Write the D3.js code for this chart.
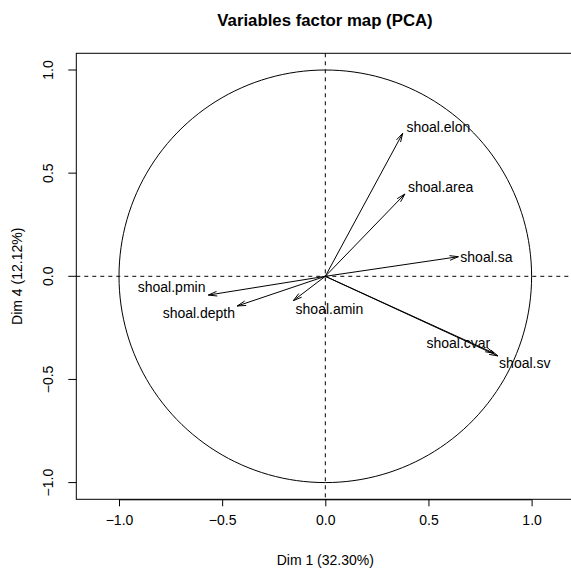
<!DOCTYPE html>
<html>
<head>
<meta charset="utf-8">
<script src="https://cdn.jsdelivr.net/npm/d3@7"></script>
<style>
  body { margin: 0; background: #fff; }
  svg { display: block; font-family: "Liberation Sans", Arial, sans-serif; }
</style>
</head>
<body>
<div id="chart"></div>
<script>
// ---- data ----
const variables = ["shoal.elon", "shoal.area", "shoal.sa", "shoal.cvar", "shoal.sv", "shoal.pmin", "shoal.depth", "shoal.amin"];
const dim1 = [0.375, 0.386, 0.645, 0.818, 0.837, -0.567, -0.427, -0.155];
const dim4 = [0.693, 0.399, 0.095, -0.373, -0.386, -0.091, -0.144, -0.118];
// label anchor points (data units), as placed by the original label-avoidance routine
const labelX = [0.548, 0.559, 0.781, 0.645, 0.967, -0.745, -0.613, 0.020];
const labelY = [0.725, 0.434, 0.092, -0.325, -0.422, -0.050, -0.176, -0.160];
const xTicks = [-1, -0.5, 0, 0.5, 1];
const yTicks = [-1, -0.5, 0, 0.5, 1];
const title = "Variables factor map (PCA)";
const xTitle = "Dim 1 (32.30%)";
const yTitle = "Dim 4 (12.12%)";

// ---- layout ----
const W = 571, H = 570;
const svg = d3.select("#chart").append("svg").attr("width", W).attr("height", H);

const x = d3.scaleLinear().domain([-1.207, 1.207]).range([76.3, 574.3]);
const y = d3.scaleLinear().domain([-1.081, 1.081]).range([499.3, 53.3]);
const fmt = v => d3.format(".1f")(v).replace("-", "\u2212");

// title
svg.append("text").attr("x", 325).attr("y", 26).attr("text-anchor", "middle")
  .attr("font-weight", "bold").attr("font-size", 16.8).text(title);

// axes
const xAxis = d3.axisBottom(x).tickValues(xTicks).tickSize(7).tickPadding(9).tickFormat(fmt);
const gx = svg.append("g").attr("transform", `translate(0,${y.range()[0]})`).call(xAxis);
gx.select(".domain").attr("d", `M${x(-1)},0.5H${x(1)}`).attr("stroke", "#000");
gx.selectAll("text").attr("font-size", 14).attr("font-family", "Liberation Sans, Arial, sans-serif").attr("fill", "#000");

const gy = svg.append("g").attr("transform", `translate(${x.range()[0]},0)`);
gy.selectAll("line.tick").data(yTicks).enter().append("line")
  .attr("x1", -8).attr("x2", 0).attr("y1", d => y(d)).attr("y2", d => y(d)).attr("stroke", "#000");
gy.selectAll("text.tick").data(yTicks).enter().append("text")
  .attr("transform", d => `translate(-28,${y(d)}) rotate(-90)`)
  .attr("text-anchor", "middle").attr("dy", "0.35em").attr("font-size", 14).text(fmt);

// axis titles
svg.append("text").attr("x", 325.3).attr("y", 565).attr("text-anchor", "middle")
  .attr("font-size", 14).text(xTitle);
svg.append("text").attr("transform", `translate(17,${y(0)}) rotate(-90)`)
  .attr("text-anchor", "middle").attr("dy", "0.35em").attr("font-size", 14).text(yTitle);

// plot box
svg.append("rect").attr("x", x.range()[0]).attr("y", y.range()[1])
  .attr("width", x.range()[1] - x.range()[0]).attr("height", y.range()[0] - y.range()[1])
  .attr("fill", "none").attr("stroke", "#000").attr("stroke-width", 1);

// dashed reference lines
svg.append("line").attr("x1", x.range()[0]).attr("x2", x.range()[1]).attr("y1", y(0)).attr("y2", y(0))
  .attr("stroke", "#000").attr("stroke-dasharray", "4,4");
svg.append("line").attr("x1", x(0)).attr("x2", x(0)).attr("y1", y.range()[1]).attr("y2", y.range()[0])
  .attr("stroke", "#000").attr("stroke-dasharray", "4,4");

// correlation circle
const circ = d3.range(0, 361, 2).map(a => [Math.cos(a * Math.PI / 180), Math.sin(a * Math.PI / 180)]);
svg.append("path").datum(circ)
  .attr("d", d3.line().x(d => x(d[0])).y(d => y(d[1])))
  .attr("fill", "none").attr("stroke", "#000").attr("stroke-width", 1);

// arrows
const data = variables.map((v, i) => ({ name: v, d1: dim1[i], d4: dim4[i], lx: labelX[i], ly: labelY[i] }));
const headLen = 9, headAng = 15 * Math.PI / 180;
const g = svg.append("g");
data.forEach(d => {
  const x0 = x(0), y0 = y(0), x1 = x(d.d1), y1 = y(d.d4);
  const ang = Math.atan2(y1 - y0, x1 - x0);
  const a1 = ang + Math.PI - headAng, a2 = ang + Math.PI + headAng;
  const p = d3.path();
  p.moveTo(x0, y0); p.lineTo(x1, y1);
  p.moveTo(x1 + headLen * Math.cos(a1), y1 + headLen * Math.sin(a1));
  p.lineTo(x1, y1);
  p.lineTo(x1 + headLen * Math.cos(a2), y1 + headLen * Math.sin(a2));
  g.append("path").attr("d", p.toString()).attr("fill", "none").attr("stroke", "#000").attr("stroke-width", 1);
});
g.selectAll("text").data(data).enter().append("text")
  .attr("x", d => x(d.lx)).attr("y", d => y(d.ly)).attr("dy", "0.35em")
  .attr("text-anchor", "middle").attr("font-size", 14).text(d => d.name);
</script>
</body>
</html>
